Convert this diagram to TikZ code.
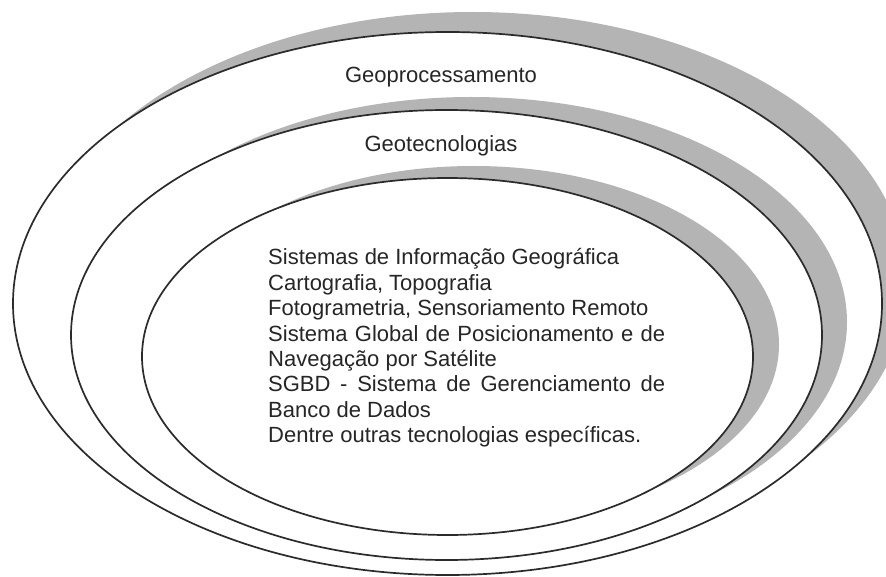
\documentclass[tikz,border=0pt]{standalone}
\usepackage{fontspec}
\setmainfont{Liberation Sans}
\usetikzlibrary{shapes.geometric,shadows}
\definecolor{shadowgray}{HTML}{B4B4B4}
\definecolor{linegray}{HTML}{2B2B2B}

\begin{document}
\begin{tikzpicture}[
    x=1pt, y=-1pt,
    ring/.style={ellipse, draw=linegray, line width=1.7pt, fill=white, inner sep=0pt},
    ring shadow/.style 2 args={drop shadow={shadow xshift=#1, shadow yshift=#2, fill=shadowgray, opacity=1}},
    every node/.style={font=\fontsize{22}{25.4}\selectfont, text=black!85}
  ]
  \useasboundingbox (0,0) rectangle (886,577);
  \clip (0,0) rectangle (886,577);

  % Rings
  \node[ring, ring shadow={25pt}{20pt}, minimum width=869pt, minimum height=543pt] (geoproc) at (447.5,303.5) {};
  \node[ring, ring shadow={25pt}{13pt}, minimum width=751pt, minimum height=450pt] (geotec) at (446.5,335) {};
  \node[ring, ring shadow={26pt}{12pt}, minimum width=611pt, minimum height=357pt] (tech) at (447.5,356.5) {};

  % Labels
  \node[anchor=base] (geoproc label) at (441,83) {Geoprocessamento};
  \node[anchor=base] (geotec label) at (441,152) {Geotecnologias};
  \node[anchor=base west, inner sep=0pt] (tech list) at (268,265) {\parbox[t]{397pt}{%
    Sistemas de Informação Geográfica\\
    Cartografia, Topografia\\
    Fotogrametria, Sensoriamento Remoto\\
    Sistema Global de Posicionamento e de\linebreak Navegação por Satélite\\
    SGBD - Sistema de Gerenciamento de\linebreak Banco de Dados\\
    Dentre outras tecnologias específicas.}};
\end{tikzpicture}
\end{document}
